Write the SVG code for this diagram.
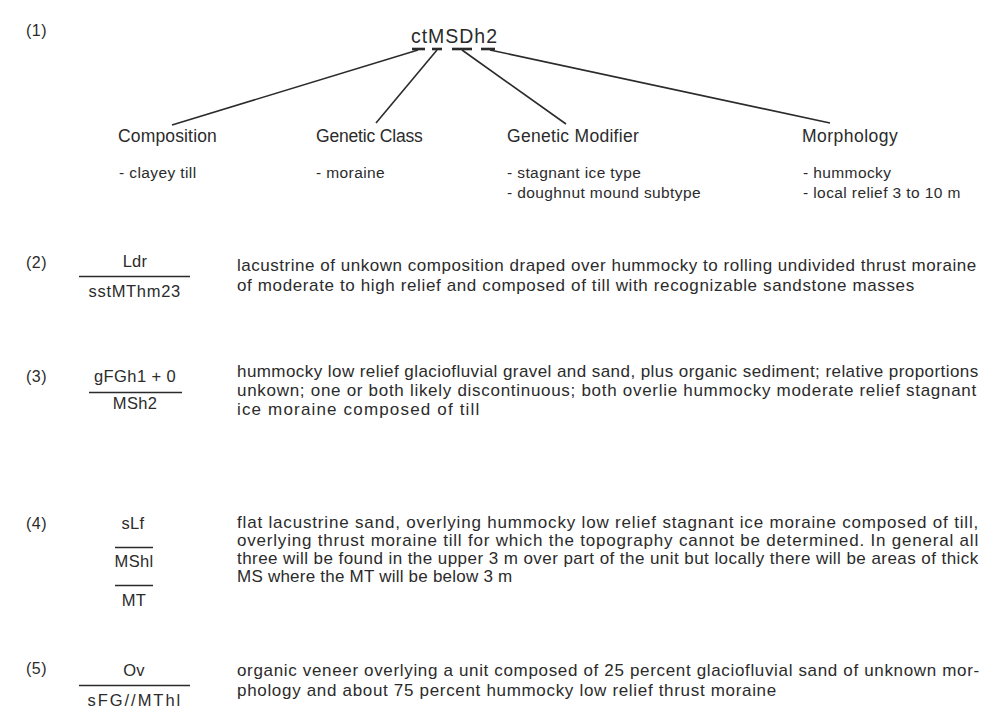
<svg xmlns="http://www.w3.org/2000/svg" width="984" height="719" viewBox="0 0 984 719">
<style>
text{font-family:"Liberation Sans","Noto Sans",Arial,sans-serif;fill:#2b2b2b;font-size:17px;letter-spacing:0.8px}
.num{font-size:16px;letter-spacing:0.5px}
.sym{font-size:16.5px;text-anchor:middle;letter-spacing:0.3px}
.root{font-size:19.5px;text-anchor:middle;letter-spacing:0}
.hd{font-size:17.5px;letter-spacing:0.2px}
.it{font-size:15.5px;letter-spacing:0.4px}
.bar{stroke:#2b2b2b;stroke-width:1.3}
.ul{stroke:#2b2b2b;stroke-width:2.6}
.con{stroke:#2b2b2b;stroke-width:1.6;fill:none}
</style>
<rect width="984" height="719" fill="#ffffff"/>

<g id="ex1">
<text class="num" x="26" y="36">(1)</text>
<g id="root">
<text class="root" x="454" y="43" textLength="86" lengthAdjust="spacing">ctMSDh2</text>
<line class="ul" x1="412" y1="49" x2="425" y2="49"/>
<line class="ul" x1="432" y1="49" x2="442" y2="49"/>
<line class="ul" x1="452" y1="49" x2="472" y2="49"/>
<line class="ul" x1="481" y1="49" x2="495" y2="49"/>
</g>
<g id="composition">
<text class="hd" x="118" y="142" textLength="99" lengthAdjust="spacing">Composition</text>
<text class="it" x="119" y="178">- clayey till</text>
</g>
<g id="genetic-class">
<text class="hd" x="316" y="142" textLength="107" lengthAdjust="spacing">Genetic Class</text>
<text class="it" x="316" y="178">- moraine</text>
</g>
<g id="genetic-modifier">
<text class="hd" x="507" y="142" textLength="132" lengthAdjust="spacing">Genetic Modifier</text>
<text class="it" x="507" y="178">- stagnant ice type</text>
<text class="it" x="507" y="198">- doughnut mound subtype</text>
</g>
<g id="morphology">
<text class="hd" x="802" y="142" textLength="96" lengthAdjust="spacing">Morphology</text>
<text class="it" x="803" y="178">- hummocky</text>
<text class="it" x="803" y="198">- local relief 3 to 10 m</text>
</g>
</g>

<g id="connectors">
<line class="con" x1="418" y1="50" x2="172" y2="125"/>
<line class="con" x1="437" y1="50" x2="376" y2="123"/>
<line class="con" x1="462" y1="50" x2="566" y2="124"/>
<line class="con" x1="490" y1="50" x2="830" y2="123"/>
</g>

<g id="ex2">
<text class="num" x="26" y="268">(2)</text>
<text class="sym" x="135" y="267">Ldr</text>
<line class="bar" x1="79" y1="276.5" x2="190" y2="276.5"/>
<text class="sym" x="134.5" y="297" textLength="92" lengthAdjust="spacing">sstMThm23</text>
<text x="237" y="271" textLength="740" lengthAdjust="spacing">lacustrine of unkown composition draped over hummocky to rolling undivided thrust moraine</text>
<text x="237" y="291" textLength="678" lengthAdjust="spacing">of moderate to high relief and composed of till with recognizable sandstone masses</text>
</g>

<g id="ex3">
<text class="num" x="26" y="382">(3)</text>
<text class="sym" x="135" y="382" textLength="82" lengthAdjust="spacing">gFGh1 + 0</text>
<line class="bar" x1="89" y1="392.5" x2="182" y2="392.5"/>
<text class="sym" x="135" y="409">MSh2</text>
<text x="237" y="377" textLength="742" lengthAdjust="spacing">hummocky low relief glaciofluvial gravel and sand, plus organic sediment; relative proportions</text>
<text x="237" y="396" textLength="740" lengthAdjust="spacing">unkown; one or both likely discontinuous; both overlie hummocky moderate relief stagnant</text>
<text x="237" y="415" textLength="243" lengthAdjust="spacing">ice moraine composed of till</text>
</g>

<g id="ex4">
<text class="num" x="26" y="529">(4)</text>
<text class="sym" x="133" y="529">sLf</text>
<line class="bar" x1="115" y1="547.5" x2="153" y2="547.5"/>
<text class="sym" x="134" y="567">MShl</text>
<line class="bar" x1="115" y1="585.5" x2="153" y2="585.5"/>
<text class="sym" x="134" y="606">MT</text>
<text x="237" y="528" textLength="742" lengthAdjust="spacing">flat lacustrine sand, overlying hummocky low relief stagnant ice moraine composed of till,</text>
<text x="237" y="546" textLength="742" lengthAdjust="spacing">overlying thrust moraine till for which the topography cannot be determined. In general all</text>
<text x="237" y="564" textLength="742" lengthAdjust="spacing">three will be found in the upper 3 m over part of the unit but locally there will be areas of thick</text>
<text x="237" y="582" textLength="276" lengthAdjust="spacing">MS where the MT will be below 3 m</text>
</g>

<g id="ex5">
<text class="num" x="26" y="674">(5)</text>
<text class="sym" x="134" y="676">Ov</text>
<line class="bar" x1="79" y1="685.5" x2="190" y2="685.5"/>
<text class="sym" x="134" y="706" textLength="93" lengthAdjust="spacing">sFG//MThl</text>
<text x="237" y="676" textLength="743" lengthAdjust="spacing">organic veneer overlying a unit composed of 25 percent glaciofluvial sand of unknown mor-</text>
<text x="237" y="696" textLength="540" lengthAdjust="spacing">phology and about 75 percent hummocky low relief thrust moraine</text>
</g>
</svg>
